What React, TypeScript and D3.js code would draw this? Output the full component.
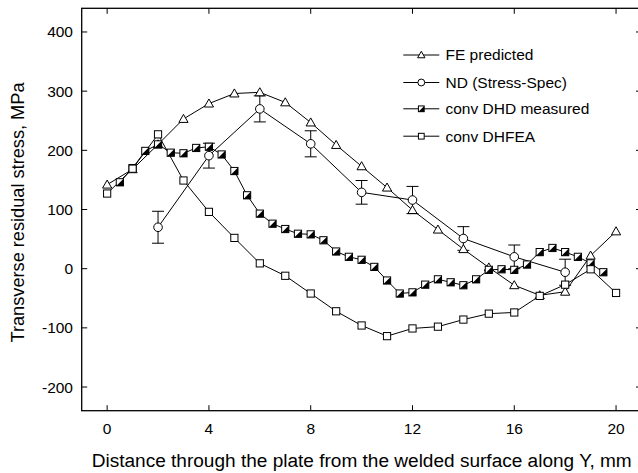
import React from "react";
import * as d3 from "d3";

const feX = [0, 1, 2, 3, 4, 5, 6, 7, 8, 9, 10, 11, 12, 13, 14, 15, 16, 17, 18, 19, 20];
const feY = [142, 168, 210, 253, 279, 296, 298, 281, 247, 209, 173, 137, 99, 66, 33, 2, -28, -45, -39, 22, 63];

const ndX = [2, 4, 6, 8, 10, 12, 14, 16, 18];
const ndY = [70, 191, 270, 211, 129, 116, 51, 20, -6];
const ndErr = [27, 21, 22, 22, 20, 23, 20, 20, 22];

const dhdX = [0.5, 1, 1.5, 2, 2.5, 3, 3.5, 4, 4.5, 5, 5.5, 6, 6.5, 7, 7.5, 8, 8.5, 9, 9.5, 10, 10.5, 11, 11.5, 12, 12.5, 13, 13.5, 14, 14.5, 15, 15.5, 16, 16.5, 17, 17.5, 18, 18.5, 19, 19.5];
const dhdY = [146, 170, 199, 210, 196, 195, 204, 206, 193, 165, 124, 93, 76, 67, 59, 58, 48, 29, 20, 15, 3, -20, -42, -40, -27, -18, -23, -28, -18, -2, -1, -2, 7, 28, 35, 28, 20, 9, -6];

const dhfeaX = [0, 1, 2, 3, 4, 5, 6, 7, 8, 9, 10, 11, 12, 13, 14, 15, 16, 17, 18, 19, 20];
const dhfeaY = [127, 169, 227, 149, 96, 52, 9, -12, -42, -72, -96, -114, -101, -98, -86, -76, -74, -46, -27, -1, -41];

const xTicks = [0, 4, 8, 12, 16, 20];
const yTicks = [-200, -100, 0, 100, 200, 300, 400];
const legendLabels = ["FE predicted", "ND (Stress-Spec)", "conv DHD measured", "conv DHFEA"];

const xTitle = "Distance through the plate from the welded surface along Y, mm";
const yTitle = "Transverse residual stress, MPa";

const W = 638;
const H = 473;
const left = 81.7;
const right = 641.5;
const top = 8.3;
const bottom = 410.7;
const FONT = "'Liberation Sans', Arial, sans-serif";

type Kind = "tri" | "circle" | "half" | "square";

function Marker({ kind, x, y, k = 1 }: { kind: Kind; x: number; y: number; k?: number }) {
  if (kind === "tri") {
    const s = 4.6 * k;
    const pts = `${x},${y - s} ${x + s},${y + s * 0.75} ${x - s},${y + s * 0.75}`;
    return <polygon points={pts} fill="#fff" stroke="#000" strokeWidth={1} />;
  }
  if (kind === "circle") {
    return <circle cx={x} cy={y} r={4.3 * k} fill="#fff" stroke="#000" strokeWidth={1} />;
  }
  const s = 3.6 * k;
  if (kind === "half") {
    return (
      <g>
        <rect x={x - s} y={y - s} width={2 * s} height={2 * s} fill="#fff" stroke="#000" strokeWidth={1} />
        <polygon points={`${x + s},${y - s} ${x + s},${y + s} ${x - s},${y + s}`} fill="#000" />
      </g>
    );
  }
  return <rect x={x - s} y={y - s} width={2 * s} height={2 * s} fill="#fff" stroke="#000" strokeWidth={1} />;
}

export default function App() {
  const xs = d3.scaleLinear().domain([-1, 21]).range([left, right]);
  const ys = d3.scaleLinear().domain([-240, 440]).range([bottom, top]);

  const line = d3
    .line<[number, number]>()
    .x((d) => xs(d[0]))
    .y((d) => ys(d[1]));

  const series: { kind: Kind; xv: number[]; yv: number[] }[] = [
    { kind: "tri", xv: feX, yv: feY },
    { kind: "circle", xv: ndX, yv: ndY },
    { kind: "half", xv: dhdX, yv: dhdY },
    { kind: "square", xv: dhfeaX, yv: dhfeaY },
  ];

  const tickLen = 5.5;
  const legX0 = 403.3;
  const legX1 = 439.3;
  const legRowY = [55, 82.5, 108.8, 136.2];

  return (
    <svg
      width={W}
      height={H}
      style={{ position: "absolute", left: 0, top: 0, background: "#fff" }}
      fontFamily={FONT}
    >
      <rect x={0} y={0} width={W} height={H} fill="#fff" />
      {/* frame */}
      <rect x={left} y={top} width={right - left} height={bottom - top} fill="none" stroke="#000" strokeWidth={1.3} />
      {/* x ticks */}
      {xTicks.map((t) => (
        <g key={"xt" + t}>
          <line x1={xs(t)} x2={xs(t)} y1={bottom} y2={bottom - tickLen} stroke="#000" strokeWidth={1} />
          <line x1={xs(t)} x2={xs(t)} y1={top} y2={top + tickLen} stroke="#000" strokeWidth={1} />
          <text x={xs(t)} y={433.8} textAnchor="middle" fontSize={15.5}>
            {t}
          </text>
        </g>
      ))}
      {/* y ticks */}
      {yTicks.map((t) => (
        <g key={"yt" + t}>
          <line x1={left} x2={left + tickLen} y1={ys(t)} y2={ys(t)} stroke="#000" strokeWidth={1} />
          <line x1={right} x2={right - tickLen} y1={ys(t)} y2={ys(t)} stroke="#000" strokeWidth={1} />
          <text x={73} y={ys(t) + 5.5} textAnchor="end" fontSize={15.5}>
            {t}
          </text>
        </g>
      ))}
      {/* axis titles */}
      <text
        x={361.7}
        y={467}
        textAnchor="middle"
        fontSize={18}
        textLength={540}
        lengthAdjust="spacingAndGlyphs"
      >
        {xTitle}
      </text>
      <text
        transform={`translate(23.5, ${(top + bottom) / 2 + 3}) rotate(-90)`}
        textAnchor="middle"
        fontSize={18}
        textLength={260}
        lengthAdjust="spacingAndGlyphs"
      >
        {yTitle}
      </text>

      {/* lines */}
      {series.map((s, i) => (
        <path
          key={"l" + i}
          d={line(s.xv.map((x, j) => [x, s.yv[j]] as [number, number])) || ""}
          fill="none"
          stroke="#000"
          strokeWidth={1}
        />
      ))}
      {/* error bars */}
      {ndX.map((x, j) => {
        const cx = xs(x);
        const y1 = ys(ndY[j] + ndErr[j]);
        const y2 = ys(ndY[j] - ndErr[j]);
        return (
          <g key={"eb" + j} stroke="#000" strokeWidth={1}>
            <line x1={cx} x2={cx} y1={y1} y2={y2} />
            <line x1={cx - 6} x2={cx + 6} y1={y1} y2={y1} />
            <line x1={cx - 6} x2={cx + 6} y1={y2} y2={y2} />
          </g>
        );
      })}
      {/* markers */}
      {series.map((s, i) => (
        <g key={"m" + i}>
          {s.xv.map((x, j) => (
            <Marker key={j} kind={s.kind} x={xs(x)} y={ys(s.yv[j])} />
          ))}
        </g>
      ))}

      {/* legend */}
      {series.map((s, i) => (
        <g key={"lg" + i}>
          <line x1={legX0} x2={legX1} y1={legRowY[i]} y2={legRowY[i]} stroke="#000" strokeWidth={1} />
          <Marker kind={s.kind} x={(legX0 + legX1) / 2} y={legRowY[i]} k={0.8} />
          <text x={445.5} y={legRowY[i] + 5.4} fontSize={15.5}>
            {legendLabels[i]}
          </text>
        </g>
      ))}
    </svg>
  );
}
